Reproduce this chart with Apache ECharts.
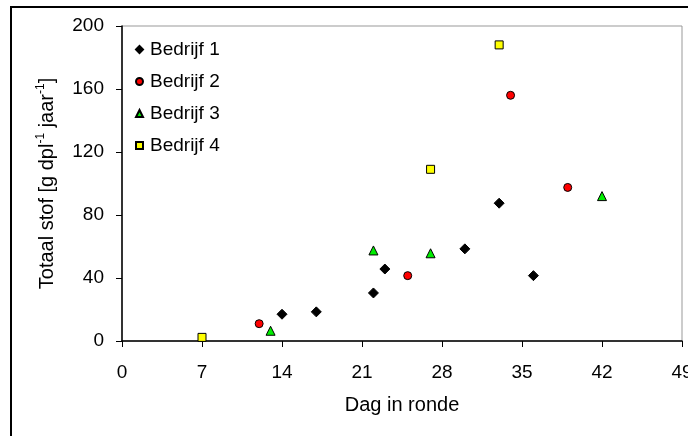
<!DOCTYPE html>
<html>
<head>
<meta charset="utf-8">
<script src="https://cdn.jsdelivr.net/npm/echarts@6/dist/echarts.min.js"></script>
<style>
html,body{margin:0;padding:0;background:#fff;}
#chart{width:688px;height:436px;}
</style>
</head>
<body>
<div id="chart"></div>
<script>
// dag in ronde, totaal stof per bedrijf
var bedrijf1X = [14, 17, 22, 23, 30, 33, 36];
var bedrijf1Y = [17, 18.5, 30.5, 45.7, 58.5, 87.5, 41.5];
var bedrijf2X = [12, 25, 34, 39];
var bedrijf2Y = [11, 41.5, 156, 97.5];
var bedrijf3X = [13, 22, 27, 42];
var bedrijf3Y = [6.5, 57.5, 55.7, 92];
var bedrijf4X = [7, 27, 33];
var bedrijf4Y = [2.3, 109, 188];

var xTicks = [0, 7, 14, 21, 28, 35, 42, 49];
var yTicks = [0, 40, 80, 120, 160, 200];

function pairs(xs, ys){
	var out = [];
	for(var i=0;i<xs.length;i++){ out.push([xs[i], ys[i]]); }
	return out;
}

var font = 'Liberation Sans, Arial, sans-serif';
var chart = echarts.init(document.getElementById('chart'));
var option = {
	animation: false,
	textStyle: { fontFamily: font, color: '#000' },
	graphic: [{
		type: 'rect',
		shape: { x: 11, y: 7, width: 700, height: 460 },
		style: { fill: 'none', stroke: '#000', lineWidth: 2 },
		silent: true
	}],
	grid: {
		left: 122, top: 26, right: 6, bottom: 95,
		outerBoundsMode: 'none',
		containLabel: false,
		show: true, borderColor: '#999', borderWidth: 1
	},
	legend: {
		orient: 'vertical',
		left: 130, top: 35,
		itemWidth: 7, itemHeight: 7,
		itemGap: 13,
		itemStyle: { opacity: 1 },
		textStyle: { fontSize: 19, fontFamily: font, color: '#000', padding: [0,0,0,2] },
		data: ['Bedrijf 1', 'Bedrijf 2', 'Bedrijf 3', 'Bedrijf 4']
	},
	xAxis: {
		type: 'value',
		min: 0, max: 49, interval: 7,
		name: 'Dag in ronde',
		nameLocation: 'middle',
		nameGap: 54,
		nameTextStyle: { fontSize: 20, fontFamily: font, color: '#000' },
		axisLine: { onZero: false, lineStyle: { color: '#000', width: 1.5 } },
		axisTick: { show: true, inside: false, length: 6, lineStyle: { color: '#000' } },
		axisLabel: { fontSize: 19, color: '#000', margin: 22, fontFamily: font },
		splitLine: { show: false }
	},
	yAxis: {
		type: 'value',
		min: 0, max: 200, interval: 40,
		name: 'Totaal stof [g dpl{sup|-1} jaar{sup|-1}]',
		nameLocation: 'middle',
		nameRotate: 90,
		nameGap: 63,
		nameTextStyle: {
			fontSize: 20, fontFamily: font, color: '#000', lineHeight: 24,
			rich: { sup: { fontSize: 12, fontFamily: font, color: '#000', verticalAlign: 'top', lineHeight: 24, padding: [0,0,10,0] } }
		},
		axisLine: { show: true, onZero: false, lineStyle: { color: '#000', width: 1.5 } },
		axisTick: { show: true, inside: false, length: 6, lineStyle: { color: '#000' } },
		axisLabel: { fontSize: 19, color: '#000', margin: 18, fontFamily: font },
		splitLine: { show: false }
	},
	series: [{
		name: 'Bedrijf 1', type: 'scatter', symbol: 'diamond', symbolSize: 10,
		itemStyle: { color: '#000', borderColor: '#000', borderWidth: 1, opacity: 1 },
		data: pairs(bedrijf1X, bedrijf1Y)
	}, {
		name: 'Bedrijf 2', type: 'scatter', symbol: 'circle', symbolSize: 8,
		itemStyle: { color: '#ff0000', borderColor: '#000', borderWidth: 1, opacity: 1 },
		data: pairs(bedrijf2X, bedrijf2Y)
	}, {
		name: 'Bedrijf 3', type: 'scatter', symbol: 'triangle', symbolSize: 9,
		itemStyle: { color: '#00ee00', borderColor: '#000', borderWidth: 1, opacity: 1 },
		data: pairs(bedrijf3X, bedrijf3Y)
	}, {
		name: 'Bedrijf 4', type: 'scatter', symbol: 'rect', symbolSize: 8,
		itemStyle: { color: '#ffff00', borderColor: '#000', borderWidth: 1, opacity: 1 },
		data: pairs(bedrijf4X, bedrijf4Y)
	}]
};
chart.setOption(option);
</script>
</body>
</html>
